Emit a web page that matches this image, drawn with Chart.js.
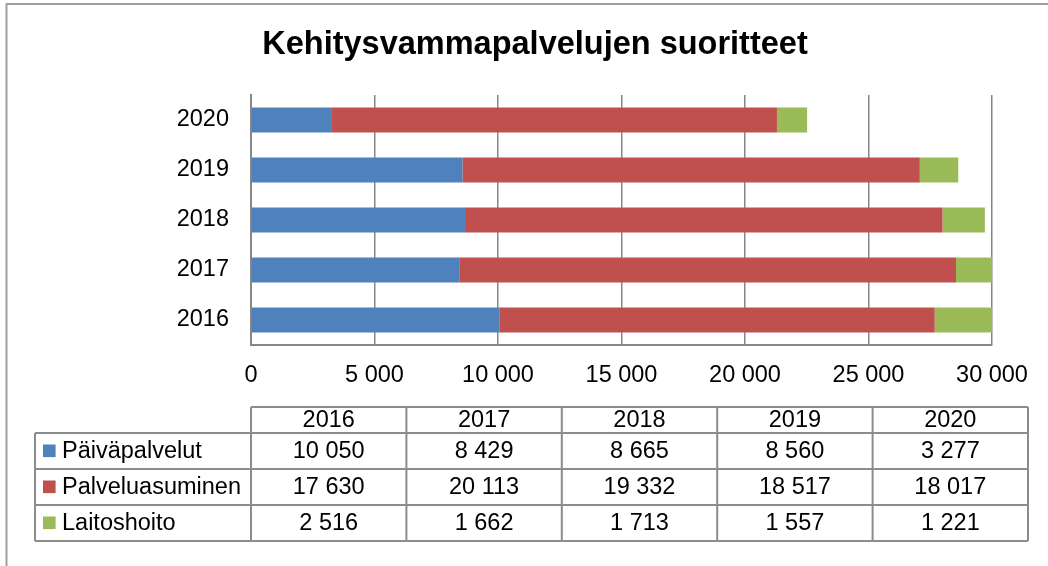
<!DOCTYPE html>
<html>
<head>
<meta charset="utf-8">
<script src="https://cdn.jsdelivr.net/npm/chart.js@4/dist/chart.umd.min.js"></script>
<style>
  html, body { margin: 0; padding: 0; background: #fff; }
  #wrap { width: 1048px; height: 566px; }
</style>
</head>
<body>
<div id="wrap"><canvas id="myChart" width="1048" height="566"></canvas></div>
<script>
// data
const years = ["2016", "2017", "2018", "2019", "2020"];
const seriesNames = ["Päiväpalvelut", "Palveluasuminen", "Laitoshoito"];
const paivapalvelut = [10050, 8429, 8665, 8560, 3277];
const palveluasuminen = [17630, 20113, 19332, 18517, 18017];
const laitoshoito = [2516, 1662, 1713, 1557, 1221];
const xTicks = [0, 5000, 10000, 15000, 20000, 25000, 30000];

const colors = ["#4f81bd", "#c0504d", "#9bbb59"];
const font = "'Liberation Sans', Arial, sans-serif";
const fontSize = 23.5;

function fmt(n) {
  return String(n).replace(/\B(?=(\d{3})+(?!\d))/g, " ");
}

// frame + data table under the chart
const tablePlugin = {
  id: "tablePlugin",
  beforeDraw(chart) {
    let ctx = chart.ctx;
    ctx.save();
    ctx.strokeStyle = "#a0a0a0";
    ctx.lineWidth = 2;
    ctx.beginPath();
    ctx.moveTo(6.5, 566);
    ctx.lineTo(6.5, 4);
    ctx.lineTo(1048, 4);
    ctx.stroke();
    ctx.restore();
  },
  afterDraw(chart) {
    let ctx = chart.ctx;
    let rows = [paivapalvelut, palveluasuminen, laitoshoito];
    let left = 35, colStart = 251, colW = 155.4;
    let headTop = 407, headBottom = 433, rowH = 36;
    let right = colStart + colW * years.length;
    let bottom = headBottom + rowH * rows.length;

    ctx.save();
    ctx.strokeStyle = "#8c8c8c";
    ctx.lineWidth = 2;
    ctx.beginPath();
    // header box
    ctx.moveTo(colStart, headTop);
    ctx.lineTo(right, headTop);
    for (let i = 0; i <= years.length; i++) {
      let x = colStart + colW * i;
      ctx.moveTo(x, headTop);
      ctx.lineTo(x, bottom);
    }
    for (let r = 0; r <= rows.length; r++) {
      let y = headBottom + rowH * r;
      ctx.moveTo(left, y);
      ctx.lineTo(right, y);
    }
    ctx.moveTo(left, headBottom);
    ctx.lineTo(left, bottom);
    ctx.stroke();

    ctx.fillStyle = "#000";
    ctx.font = fontSize + "px " + font;
    ctx.textBaseline = "middle";
    ctx.textAlign = "center";
    years.forEach((y, i) => {
      ctx.fillText(y, colStart + colW * (i + 0.5), (headTop + headBottom) / 2 + 0.5);
    });
    rows.forEach((vals, r) => {
      let cy = headBottom + rowH * (r + 0.5) + 0.5;
      ctx.textAlign = "center";
      ctx.fillStyle = "#000";
      vals.forEach((v, i) => {
        ctx.fillText(fmt(v), colStart + colW * (i + 0.5), cy);
      });
      ctx.fillStyle = colors[r];
      ctx.fillRect(43, cy - 7, 12.6, 12.6);
      ctx.fillStyle = "#000";
      ctx.textAlign = "left";
      ctx.fillText(seriesNames[r], 62, cy);
    });
    ctx.restore();
  },
};

const ctx = document.getElementById("myChart").getContext("2d");
const myChart = new Chart(ctx, {
  type: "bar",
  data: {
    labels: years,
    datasets: [
      { label: seriesNames[0], data: paivapalvelut, backgroundColor: colors[0] },
      { label: seriesNames[1], data: palveluasuminen, backgroundColor: colors[1] },
      { label: seriesNames[2], data: laitoshoito, backgroundColor: colors[2] },
    ].map((d) => Object.assign(d, {
      borderWidth: 0,
      barPercentage: 0.5,
      categoryPercentage: 1,
      clip: 0,
    })),
  },
  options: {
    indexAxis: "y",
    responsive: false,
    animation: false,
    devicePixelRatio: 1,
    layout: { padding: { left: 78, right: 56, top: 26, bottom: 176 } },
    plugins: {
      legend: { display: false },
      tooltip: { enabled: false },
      title: {
        display: true,
        text: "Kehitysvammapalvelujen suoritteet",
        color: "#000",
        font: { family: font, size: 32.5, weight: "bold" },
        padding: { top: 0, bottom: 30 },
      },
    },
    scales: {
      x: {
        stacked: true,
        min: 0,
        max: 30000,
        afterFit: (scale) => { scale.height = 45; },
        afterBuildTicks: (scale) => { scale.ticks = xTicks.map((v) => ({ value: v })); },
        grid: { color: "#868686", lineWidth: 1.5, drawTicks: false },
        border: { display: true, color: "#868686", width: 2 },
        ticks: {
          color: "#000",
          padding: 16,
          maxRotation: 0,
          font: { family: font, size: fontSize },
          callback: (v) => fmt(v),
        },
      },
      y: {
        stacked: true,
        reverse: true,
        afterFit: (scale) => { scale.width = 251 - 78; },
        grid: { display: false, drawTicks: false },
        border: { display: true, color: "#868686", width: 2 },
        ticks: {
          color: "#000",
          padding: 22,
          font: { family: font, size: fontSize },
        },
      },
    },
  },
  plugins: [tablePlugin],
});
</script>
</body>
</html>
